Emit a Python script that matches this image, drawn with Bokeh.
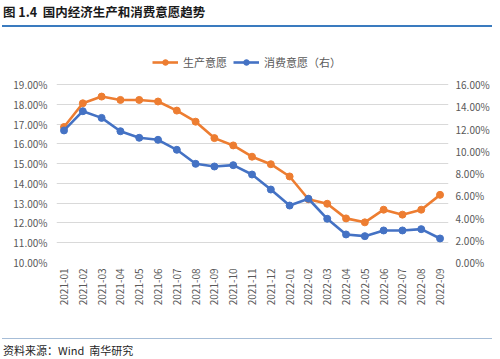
import math
from bokeh.plotting import figure
from bokeh.layouts import column
from bokeh.models import (LinearAxis, Range1d, FixedTicker, Legend, LegendItem, Div)
from bokeh.embed import file_html
from bokeh.resources import INLINE

months = ["2021-01", "2021-02", "2021-03", "2021-04", "2021-05", "2021-06", "2021-07",
          "2021-08", "2021-09", "2021-10", "2021-11", "2021-12", "2022-01", "2022-02",
          "2022-03", "2022-04", "2022-05", "2022-06", "2022-07", "2022-08", "2022-09"]
production = [16.85, 18.05, 18.39, 18.22, 18.22, 18.14, 17.68, 17.12, 16.29, 15.92, 15.35,
              14.97, 14.35, 13.20, 12.97, 12.23, 12.03, 12.67, 12.42, 12.67, 13.42]
consumption = [11.87, 13.60, 13.00, 11.80, 11.21, 11.03, 10.13, 8.87, 8.63, 8.75, 7.91,
               6.56, 5.12, 5.73, 3.93, 2.52, 2.37, 2.88, 2.88, 3.00, 2.16]
left_ticks = [10, 11, 12, 13, 14, 15, 16, 17, 18, 19]
right_ticks = [0, 2, 4, 6, 8, 10, 12, 14, 16]
title_text = "图 1.4&nbsp;&nbsp;国内经济生产和消费意愿趋势"
source_text = "资料来源：Wind&nbsp;&nbsp;南华研究"
series_names = ["生产意愿", "消费意愿（右）"]

ORANGE = "#ED7D31"
BLUE = "#4472C4"
GRAY = "#595959"
FONT = "Noto Sans CJK SC"

x = list(range(len(months)))

top_div = Div(width=484, height=23, text=(
    f'<div style="position:relative;width:484px;height:23px;">'
    f'<div style="position:absolute;left:-2px;top:0px;font-family:\'{FONT}\';font-size:12.5px;'
    f'font-weight:bold;color:#1A1A1A;white-space:nowrap;line-height:14px;">{title_text}</div>'
    f'<div style="position:absolute;left:-3px;top:20px;width:490px;height:2px;background:#3A7BBF;"></div>'
    f'</div>'))

bottom_div = Div(width=484, height=25, text=(
    f'<div style="position:relative;width:484px;height:25px;">'
    f'<div style="position:absolute;left:-3px;top:5px;width:490px;height:1px;background:#A6BDD7;"></div>'
    f'<div style="position:absolute;left:-2px;top:10px;font-family:\'{FONT}\';font-size:11px;'
    f'color:#262626;white-space:nowrap;line-height:14px;">{source_text}</div>'
    f'</div>'))

# frame spans page y 54..262; 19% line sits at page y 84
p = figure(width=492, height=295, output_backend="svg", toolbar_location=None,
           x_range=Range1d(-0.4, 20.45), y_range=Range1d(10, 20.517),
           min_border_left=56, min_border_right=44, min_border_top=21, min_border_bottom=66,
           outline_line_color=None)
p.background_fill_color = "white"
p.border_fill_color = "white"


def style_axis(ax, standoff):
    ax.axis_line_color = None
    ax.major_tick_line_color = None
    ax.minor_tick_line_color = None
    ax.major_tick_out = 0
    ax.major_tick_in = 0
    ax.minor_tick_out = 0
    ax.minor_tick_in = 0
    ax.major_label_standoff = standoff
    ax.major_label_text_font_size = "10px"
    ax.major_label_text_color = GRAY
    ax.major_label_text_font = FONT


# left axis
ya = p.yaxis[0]
ya.ticker = FixedTicker(ticks=left_ticks)
ya.major_label_overrides = {t: f"{t:.2f}%" for t in left_ticks}
style_axis(ya, 9)

# right axis
p.extra_y_ranges = {"r": Range1d(0, 18.697)}
ra = LinearAxis(y_range_name="r", ticker=FixedTicker(ticks=right_ticks))
ra.major_label_overrides = {t: f"{t:.2f}%" for t in right_ticks}
style_axis(ra, 7)
p.add_layout(ra, "right")

# x axis
xa = p.xaxis[0]
xa.ticker = FixedTicker(ticks=x)
xa.major_label_overrides = {i: m for i, m in zip(x, months)}
xa.major_label_orientation = math.pi / 2
style_axis(xa, 6)

p.xgrid.visible = False
p.ygrid.ticker = FixedTicker(ticks=left_ticks)
p.ygrid.grid_line_color = "#D9D9D9"
p.ygrid.grid_line_width = 1

l1 = p.line(x, production, line_color=ORANGE, line_width=2.6)
s1 = p.scatter(x, production, size=7, fill_color=ORANGE, line_color=ORANGE)
l2 = p.line(x, consumption, line_color=BLUE, line_width=2.6, y_range_name="r")
s2 = p.scatter(x, consumption, size=7, fill_color=BLUE, line_color=BLUE, y_range_name="r")

legend = Legend(items=[LegendItem(label=series_names[0], renderers=[l1, s1]),
                       LegendItem(label=series_names[1], renderers=[l2, s2])],
                orientation="horizontal", location=(96, 192),
                background_fill_alpha=0, border_line_color=None,
                label_text_font_size="11px", label_text_color=GRAY, label_text_font=FONT,
                glyph_width=26, glyph_height=14, label_height=14, label_standoff=5,
                spacing=6, padding=0, margin=0)
p.add_layout(legend)

layout = column(top_div, p, bottom_div, spacing=0)
open("out.html", "w").write(file_html(layout, INLINE))
